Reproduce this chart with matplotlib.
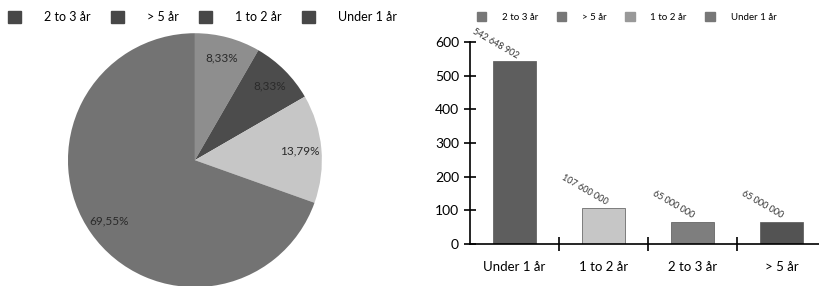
import matplotlib.pyplot as plt
from matplotlib.patches import Patch

plt.rcParams["font.family"] = ["Lato", "DejaVu Sans"]

# pie data (clockwise from 12 o'clock)
pie_labels = ["2 to 3 år", "> 5 år", "1 to 2 år", "Under 1 år"]
pie_values = [65_000_000, 65_000_000, 107_600_000, 542_648_902]
pie_colors = ["#8e8e8e", "#4c4c4c", "#c6c6c6", "#737373"]

# bar data
bar_cats = ["Under 1 år", "1 to 2 år", "2 to 3 år", "> 5 år"]
bar_values = [542.6, 107.6, 65.0, 65.0]
bar_texts = ["542 648 902", "107 600 000", "65 000 000", "65 000 000"]
bar_colors = ["#5e5e5e", "#c6c6c6", "#7e7e7e", "#535353"]

fig = plt.figure(figsize=(8.19, 2.86), dpi=100)

# ---- pie ----
ax1 = fig.add_axes([0.083, -0.004, 0.310, 0.888])
wedges, _, autotexts = ax1.pie(
    pie_values, colors=pie_colors, startangle=90, counterclock=False,
    autopct=lambda p: f"{p:.2f}%".replace(".", ","), pctdistance=0.83,
    wedgeprops=dict(linewidth=0), textprops=dict(fontsize=8.5, color="#2a2a2a"),
)
ax1.set_xlim(-1, 1)
ax1.set_ylim(-1, 1)
ax1.set_aspect("equal")

fig.legend(
    handles=[Patch(color="#474747") for _ in pie_labels], labels=pie_labels,
    loc="center", bbox_to_anchor=(0.247, 0.94), ncol=4, frameon=False,
    fontsize=9, handlelength=1.1, handleheight=1.1, handletextpad=1.8,
    columnspacing=1.6,
)

# ---- bars ----
ax2 = fig.add_axes([0.574, 0.147, 0.426, 0.706])
x = range(len(bar_cats))
ax2.bar(x, bar_values, width=0.48, color=bar_colors, edgecolor="#555555", linewidth=0.5)
for xi, v, t in zip(x, bar_values, bar_texts):
    ax2.annotate(t, (xi, v), xytext=(-14, 13), textcoords="offset points",
                 rotation=-30, ha="center", va="center", fontsize=6.5, color="#333333")

ax2.set_xlim(-0.5, 3.42)
ax2.set_ylim(0, 600)
ax2.set_yticks([0, 100, 200, 300, 400, 500, 600])
ax2.set_xticks(list(x))
ax2.set_xticklabels(bar_cats, fontsize=9.5)
ax2.set_xticks([0.5, 1.5, 2.5], minor=True)
ax2.tick_params(axis="x", which="major", length=0, pad=12)
ax2.tick_params(axis="x", which="minor", direction="inout", length=10, width=1.2)
ax2.tick_params(axis="y", direction="inout", length=8, width=1.2, labelsize=10, pad=4)
for s in ["top", "right"]:
    ax2.spines[s].set_visible(False)
for s in ["left", "bottom"]:
    ax2.spines[s].set_linewidth(1.2)

fig.legend(
    handles=[Patch(color=c) for c in ["#777777", "#777777", "#999999", "#777777"]],
    labels=pie_labels, loc="center", bbox_to_anchor=(0.765, 0.94), ncol=4,
    frameon=False, fontsize=7, handlelength=1.0, handleheight=1.0,
    handletextpad=1.6, columnspacing=1.9,
)

fig.savefig("out.png", dpi=100)
